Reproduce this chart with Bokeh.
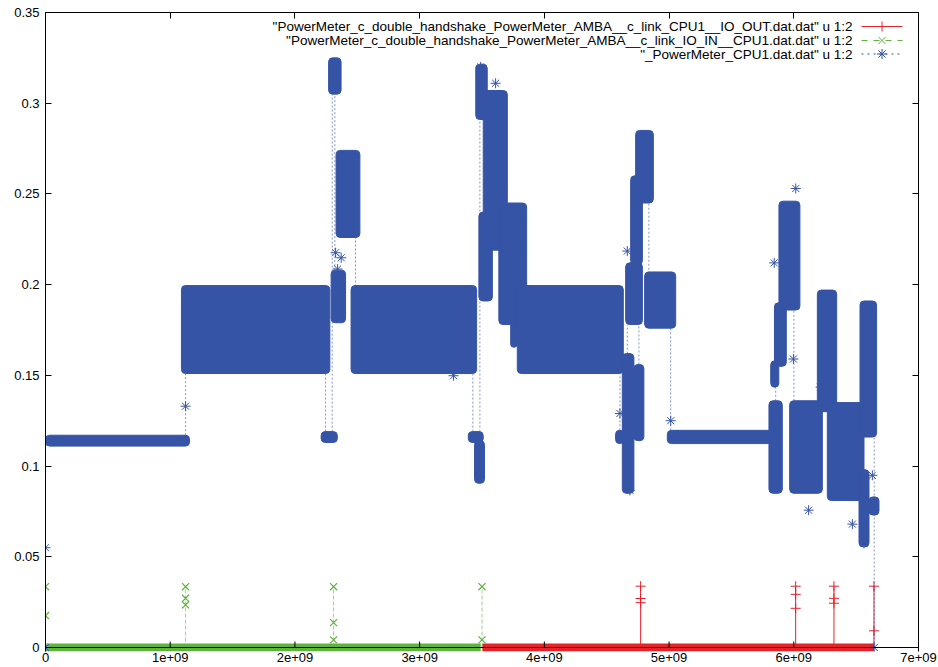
from bokeh.plotting import figure
from bokeh.models import Range1d, FixedTicker, CustomJSTickFormatter, LinearAxis, Label, Span
from bokeh.embed import file_html
from bokeh.resources import INLINE

# ---------------- data ----------------
# "_PowerMeter_CPU1.dat.dat" : dense sample blocks (start, end, low, high)
cpu1_start = [0.0e9, 1.09e9, 2.21e9, 2.27e9, 2.29e9, 2.33e9, 2.45e9, 3.39e9, 3.44e9, 3.45e9,
              3.475e9, 3.51e9, 3.635e9, 3.73e9, 3.783e9, 4.571e9, 4.625e9, 4.652e9, 4.692e9,
              4.732e9, 4.718e9, 4.804e9, 4.986e9, 5.801e9, 5.815e9, 5.845e9, 5.881e9, 5.967e9,
              6.189e9, 6.269e9, 6.523e9, 6.531e9, 6.603e9]
cpu1_end = [1.155e9, 2.28e9, 2.34e9, 2.37e9, 2.406e9, 2.521e9, 3.457e9, 3.51e9, 3.52e9, 3.542e9,
            3.583e9, 3.703e9, 3.858e9, 3.783e9, 4.633e9, 4.638e9, 4.718e9, 4.786e9, 4.786e9,
            4.874e9, 4.798e9, 5.053e9, 5.828e9, 5.908e9, 5.88e9, 5.94e9, 6.049e9, 6.229e9,
            6.344e9, 6.563e9, 6.603e9, 6.664e9, 6.683e9]
cpu1_low = [0.111, 0.151, 0.113, 0.305, 0.179, 0.226, 0.151, 0.113, 0.0905, 0.291,
            0.191, 0.219, 0.178, 0.1655, 0.151, 0.1124, 0.085, 0.178, 0.211,
            0.245, 0.114, 0.176, 0.1124, 0.085, 0.1435, 0.155, 0.186, 0.085,
            0.130, 0.081, 0.0555, 0.116, 0.073]
cpu1_high = [0.117, 0.1995, 0.119, 0.325, 0.208, 0.274, 0.1995, 0.119, 0.114, 0.3215,
             0.240, 0.307, 0.245, 0.180, 0.1995, 0.1197, 0.162, 0.212, 0.260,
             0.285, 0.156, 0.207, 0.1197, 0.136, 0.158, 0.19, 0.246, 0.136,
             0.197, 0.135, 0.098, 0.191, 0.083]
# visible dashed jumps between blocks
cpu1_jump_x = [1.123e9, 2.246e9, 2.299e9, 2.320e9, 2.486e9, 3.427e9, 3.483e9, 4.606e9,
               4.665e9, 4.758e9, 4.838e9, 5.013e9, 5.855e9, 6.001e9, 6.645e9]
cpu1_jump_from = [0.117, 0.151, 0.119, 0.208, 0.199, 0.119, 0.119, 0.1197,
                  0.162, 0.156, 0.206, 0.1197, 0.136, 0.136, 0.0]
cpu1_jump_to = [0.151, 0.119, 0.305, 0.305, 0.226, 0.151, 0.291, 0.151,
                0.178, 0.178, 0.245, 0.1757, 0.1435, 0.186, 0.12]
# isolated samples
cpu1_pt_x = [0.0, 0.0, 1.123e9, 2.326e9, 2.371e9, 2.342e9, 3.272e9, 3.489e9, 3.609e9, 4.606e9,
             4.665e9, 4.686e9, 5.013e9, 5.843e9, 6.016e9, 5.997e9, 6.119e9, 6.563e9, 6.630e9,
             6.645e9, 6.215e9, 6.470e9]
cpu1_pt_y = [0.055, 0.0, 0.133, 0.2176, 0.2148, 0.2086, 0.1498, 0.320, 0.311, 0.129,
             0.2185, 0.0866, 0.125, 0.212, 0.253, 0.159, 0.0757, 0.0574, 0.0949,
             0.0, 0.1435, 0.068]

# "..._IO_IN__CPU1.dat.dat"
io_in_base = [0.0, 3.49e9]
io_in_x = [0.0, 0.0, 1.123e9, 1.123e9, 1.123e9, 2.31e9, 2.31e9, 2.31e9, 3.50e9, 3.50e9]
io_in_y = [0.0335, 0.0176, 0.0335, 0.0271, 0.0235, 0.0335, 0.0137, 0.0042, 0.0335, 0.0042]

# "..._CPU1__IO_OUT.dat.dat"
io_out_base = [3.503e9, 6.643e9]
io_out_x = [4.772e9, 4.772e9, 4.772e9, 6.015e9, 6.015e9, 6.015e9, 6.322e9, 6.322e9, 6.322e9,
            6.643e9, 6.643e9]
io_out_y = [0.0338, 0.027, 0.0247, 0.0338, 0.0293, 0.0216, 0.0338, 0.0271, 0.0244, 0.0338, 0.0092]

legend_labels = [
    '"PowerMeter_c_double_handshake_PowerMeter_AMBA__c_link_CPU1__IO_OUT.dat.dat" u 1:2',
    '"PowerMeter_c_double_handshake_PowerMeter_AMBA__c_link_IO_IN__CPU1.dat.dat" u 1:2',
    '"_PowerMeter_CPU1.dat.dat" u 1:2',
]
x_ticks = [0, 1e9, 2e9, 3e9, 4e9, 5e9, 6e9, 7e9]
y_ticks = [0, 0.05, 0.1, 0.15, 0.2, 0.25, 0.3, 0.35]

# ---------------- style ----------------
RED = "#e6222a"
GREEN = "#5fb43d"
BLUE = "#3654a5"
FONT = "Liberation Sans"
FL, FR, FT, FZ = 45, 918, 12, 647   # screen px of x=0 / x=7e9 / y=0.35 / y=0
FB = 651                             # frame bottom (a little below y=0, like gnuplot's unclipped points)
X0, X1, Y1 = 0.0, 7e9, 0.35
PXY = Y1 / (FZ - FT)                 # data units per screen px (y)
Y0 = -(FB - FZ) * PXY

p = figure(frame_width=FR - FL, frame_height=FB - FT,
           min_border_left=FL, min_border_right=938 - FR, min_border_top=FT,
           min_border_bottom=667 - FB,
           x_range=Range1d(X0, X1), y_range=Range1d(Y0, Y1),
           output_backend="svg", toolbar_location=None, background_fill_color="white")
p.grid.visible = False
p.outline_line_color = None

xfmt = CustomJSTickFormatter(code="return tick == 0 ? '0' : Math.round(tick/1e9) + 'e+09';")
yfmt = CustomJSTickFormatter(code="return Math.abs(tick) < 1e-9 ? '0' : String(Math.round(tick*100)/100);")
blank = CustomJSTickFormatter(code="return '';")

for ax, fmt in ((p.xaxis[0], xfmt), (p.yaxis[0], yfmt)):
    ax.formatter = fmt
    ax.major_label_text_font = FONT
    ax.major_label_text_font_size = "13px"
    ax.major_label_text_color = "black"
    ax.major_tick_in = 6
    ax.major_tick_out = 0
    ax.minor_tick_line_color = None
    ax.axis_line_color = "black"
    ax.major_tick_line_color = "black"
p.xaxis[0].ticker = FixedTicker(ticks=x_ticks)
p.yaxis[0].ticker = FixedTicker(ticks=y_ticks)
p.xaxis[0].major_label_standoff = 1
p.xaxis[0].axis_line_color = None
p.xaxis[0].major_tick_line_color = None
p.yaxis[0].major_label_standoff = 6

top = LinearAxis(ticker=FixedTicker(ticks=x_ticks), formatter=blank)
right = LinearAxis(ticker=FixedTicker(ticks=y_ticks), formatter=blank)
for ax in (top, right):
    ax.major_tick_in = 6
    ax.major_tick_out = 0
    ax.minor_tick_line_color = None
    ax.major_label_standoff = 0
    ax.axis_line_color = "black"
    ax.major_tick_line_color = "black"
p.add_layout(top, "above")
p.add_layout(right, "right")

# IO_OUT (red)
p.line(io_out_base, [0, 0], line_color=RED, line_width=8)
out_tops = {}
for x, y in zip(io_out_x, io_out_y):
    out_tops[x] = max(out_tops.get(x, 0), y)
p.segment(list(out_tops.keys()), [0] * len(out_tops), list(out_tops.keys()), list(out_tops.values()),
          line_color=RED, line_width=1)
p.scatter(io_out_x, io_out_y, marker="cross", size=10, line_color=RED, line_width=1)

# IO_IN (green)
p.line(io_in_base, [0, 0], line_color=GREEN, line_width=8)
in_tops = {}
for x, y in zip(io_in_x, io_in_y):
    in_tops[x] = max(in_tops.get(x, 0), y)
p.segment(list(in_tops.keys()), [0] * len(in_tops), list(in_tops.keys()), list(in_tops.values()),
          line_color=GREEN, line_width=1, line_alpha=0.6, line_dash="4 2")
p.scatter(io_in_x, io_in_y, marker="x", size=10, line_color=GREEN, line_width=1.2)

# CPU1 (blue)
p.segment(cpu1_jump_x, cpu1_jump_from, cpu1_jump_x, cpu1_jump_to,
          line_color=BLUE, line_alpha=0.6, line_width=1, line_dash="2 2")
p.quad(left=cpu1_start, right=cpu1_end, bottom=cpu1_low, top=cpu1_high,
       fill_color=BLUE, line_color=BLUE, line_width=1, border_radius=4)
p.scatter(cpu1_pt_x, cpu1_pt_y, marker="asterisk", size=10, line_color=BLUE, line_width=1)

# bottom border at y = 0 with inward ticks (gnuplot draws it over the data)
p.add_layout(Span(location=0, dimension="width", line_color="black", line_width=1))
p.segment(x_ticks[1:-1], [0] * (len(x_ticks) - 2), x_ticks[1:-1], [6 * PXY] * (len(x_ticks) - 2),
          line_color="black", line_width=1)

# legend (gnuplot style: right-aligned text, sample to the right)
def sx(px):
    return X0 + (px - FL) / (FR - FL) * (X1 - X0)

def sy(py):
    return (FZ - py) * PXY

rows = [26, 40, 53.5]
styles = [(RED, "solid", "cross"), (GREEN, "dashed", "x"), (BLUE, "dotted", "asterisk")]
for lab, ry, (c, dash, mk) in zip(legend_labels, rows, styles):
    p.add_layout(Label(x=sx(852), y=sy(ry), text=lab, text_align="right", text_baseline="middle",
                       text_font=FONT, text_font_size="13.5px", text_color="black"))
    p.line([sx(861), sx(902)], [sy(ry), sy(ry)], line_color=c, line_dash=dash, line_width=1)
    p.scatter([sx(881.5)], [sy(ry)], marker=mk, size=10, line_color=c, line_width=1)

open("out.html", "w").write(file_html(p, INLINE))
